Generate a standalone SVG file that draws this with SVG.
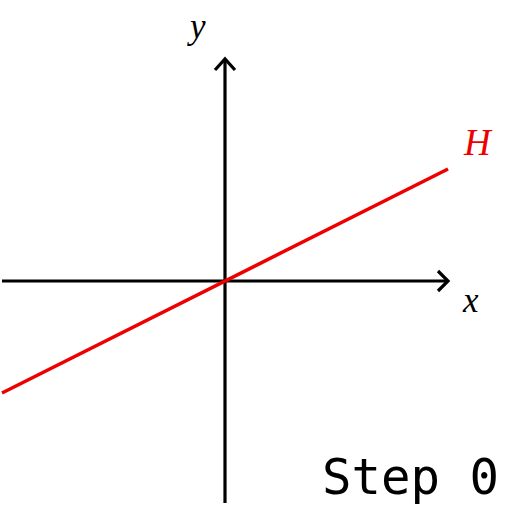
<svg xmlns="http://www.w3.org/2000/svg" width="512" height="512" viewBox="0 0 512 512">
<style>
.ax{stroke:#000;stroke-width:3.2;fill:none}
.lbl{font-family:"Liberation Serif","DejaVu Serif",serif;font-style:italic}
</style>
<rect width="512" height="512" fill="#fff"/>
<g id="connectors">
<line class="ax" x1="2" y1="281" x2="447" y2="281"/>
<polyline class="ax" points="438,271 448,281 438,291"/>
<line class="ax" x1="225" y1="503" x2="225" y2="60"/>
<polyline class="ax" points="215,70 225,59 235,70"/>
<line id="H" x1="2" y1="393" x2="448" y2="169" stroke="#e00" stroke-width="3.5"/>
</g>
<g id="labels">
<text class="lbl" x="190" y="38" font-size="35">y</text>
<text class="lbl" x="463" y="312" font-size="35">x</text>
<text class="lbl" x="464" y="155" font-size="37" fill="#e00">H</text>
<text x="322" y="494" font-family="DejaVu Sans Mono,monospace" font-size="49">Step 0</text>
</g>
</svg>
